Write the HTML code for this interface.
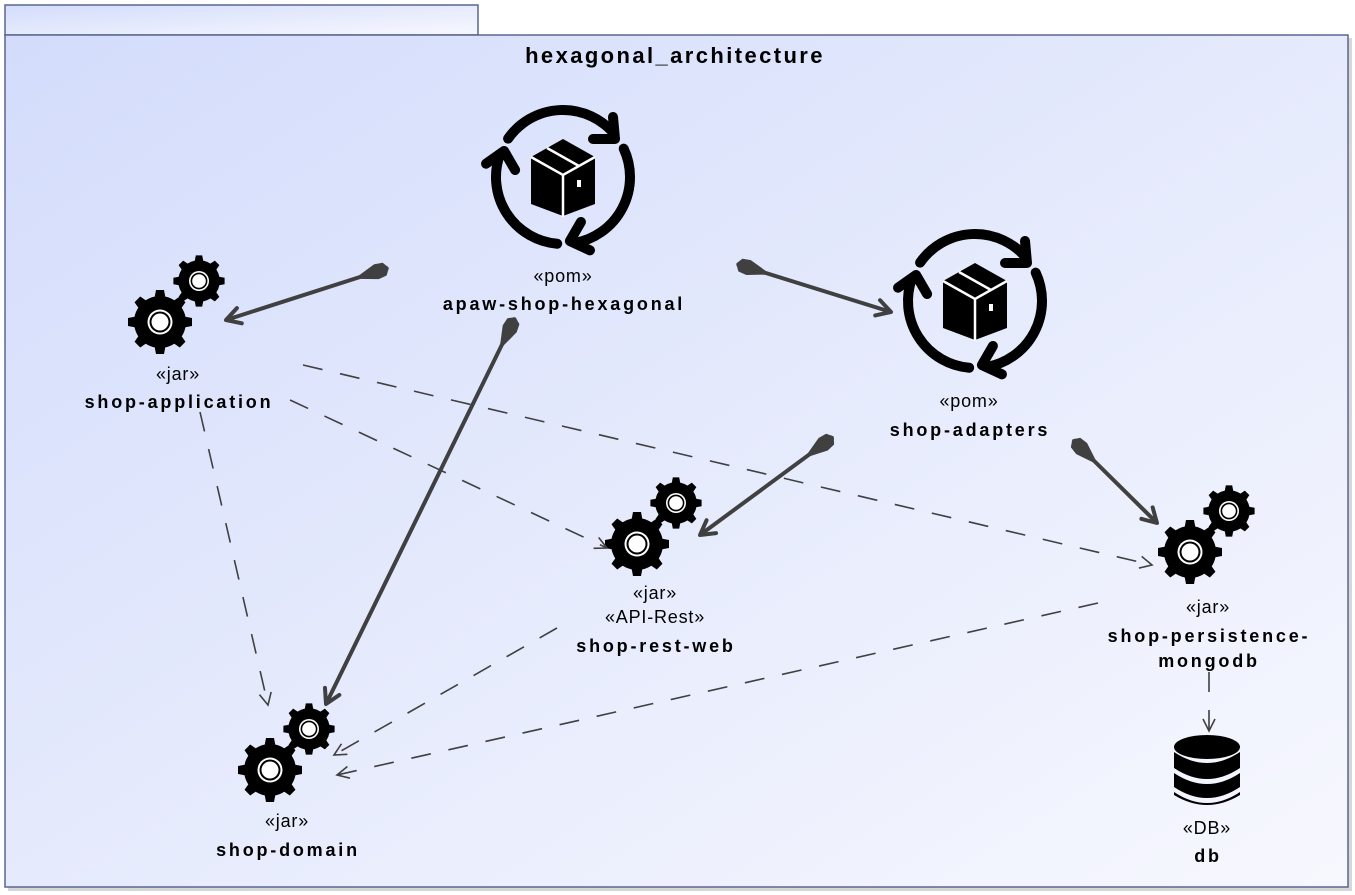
<!DOCTYPE html>
<html><head><meta charset="utf-8"><style>
html,body{margin:0;padding:0;width:1355px;height:895px;overflow:hidden;background:#fff}
svg{display:block}
text{font-family:"Liberation Sans",sans-serif;fill:#000}
.b{font-weight:bold;letter-spacing:2.8px}
.r{letter-spacing:0.8px}
</style></head><body>
<svg width="1355" height="895" viewBox="0 0 1355 895" xmlns="http://www.w3.org/2000/svg">
<defs>
<linearGradient id="bg" x1="0" y1="0" x2="1" y2="1">
<stop offset="0" stop-color="#d3dcfb"/><stop offset="1" stop-color="#f7f8fe"/>
</linearGradient>
<marker id="arr" markerUnits="userSpaceOnUse" markerWidth="30" markerHeight="30" refX="0" refY="0" viewBox="-20 -15 30 30" orient="auto">
<polyline points="-14,-8 0,0 -14,8" fill="none" stroke="#404040" stroke-width="4" stroke-linecap="round" stroke-linejoin="round"/>
</marker>
<marker id="darr" markerUnits="userSpaceOnUse" markerWidth="30" markerHeight="30" refX="0" refY="0" viewBox="-20 -15 30 30" orient="auto">
<polyline points="-12,-6 0,0 -12,6" fill="none" stroke="#404040" stroke-width="1.6"/>
</marker>
<polygon id="dia" points="0,0 4,-6 12,-7 33,0 12,7 4,6" fill="#404040" stroke="#404040" stroke-width="1.5" stroke-linejoin="round"/>
<g id="gear">
<g fill="#000">
<circle r="26"/>
<polygon points="-5.5,-24 5.5,-24 4,-32 -4,-32"/>
<polygon points="-5.5,-24 5.5,-24 4,-32 -4,-32" transform="rotate(45)"/>
<polygon points="-5.5,-24 5.5,-24 4,-32 -4,-32" transform="rotate(90)"/>
<polygon points="-5.5,-24 5.5,-24 4,-32 -4,-32" transform="rotate(135)"/>
<polygon points="-5.5,-24 5.5,-24 4,-32 -4,-32" transform="rotate(180)"/>
<polygon points="-5.5,-24 5.5,-24 4,-32 -4,-32" transform="rotate(225)"/>
<polygon points="-5.5,-24 5.5,-24 4,-32 -4,-32" transform="rotate(270)"/>
<polygon points="-5.5,-24 5.5,-24 4,-32 -4,-32" transform="rotate(315)"/>
</g>
<circle r="12.5" fill="#fff"/><circle r="10.5" fill="#000"/><circle r="8.5" fill="#fff"/>
</g>
<g id="gears">
<use href="#gear" transform="translate(39,-41) scale(0.8)"/>
<use href="#gear"/>
</g>
<g id="arc">
<path d="M-54.9,-38.4 A67,67 0 0 1 51.3,-43.1" fill="none" stroke="#000" stroke-width="10" stroke-linecap="round"/>
<polyline points="30,-38 52,-38 50,-60" fill="none" stroke="#000" stroke-width="10" stroke-linecap="round" stroke-linejoin="round"/>
</g>
<g id="pom">
<use href="#arc"/>
<use href="#arc" transform="rotate(120)"/>
<use href="#arc" transform="rotate(240)"/>
<polygon points="0,-38 32,-20 32,27 0,39 -32,27 -32,-20" fill="#000"/>
<polyline points="-32,-20 0,-2 32,-20" fill="none" stroke="#fff" stroke-width="2.5"/>
<line x1="0" y1="-2" x2="0" y2="40" stroke="#fff" stroke-width="2.5"/>
<line x1="-16" y1="-29" x2="16" y2="-11" stroke="#fff" stroke-width="2.5"/>
<rect x="14" y="3" width="4" height="7" fill="#fff"/>
</g>
</defs>
<rect x="5" y="5" width="473" height="30" fill="url(#bg)" stroke="#5a6690" stroke-width="1.5"/>
<rect x="8" y="38" width="1344" height="853" fill="#b0b0b0" opacity="0.5"/>
<rect x="5" y="35" width="1343" height="852" fill="url(#bg)" stroke="#5a6690" stroke-width="1.5"/>
<text x="675" y="63" font-size="22" font-weight="bold" letter-spacing="2.4" text-anchor="middle">hexagonal_architecture</text>

<use href="#pom" transform="translate(563,177)"/>
<use href="#pom" transform="translate(975,301)"/>
<use href="#gears" transform="translate(160,322)"/>
<use href="#gears" transform="translate(637,544)"/>
<use href="#gears" transform="translate(1190,552)"/>
<use href="#gears" transform="translate(270,770)"/>
<g transform="translate(1207,0)" fill="#000">
<ellipse cx="0" cy="747" rx="33" ry="12"/>
<path d="M-33,752 Q0,774 33,752 V768 Q0,790 -33,768Z"/>
<path d="M-33,773 Q0,795 33,773 V787 Q0,809 -33,787Z"/>
<path d="M-33,792 Q0,814 33,792 V795 Q0,815 -33,795Z"/>
</g>

<g stroke="#404040" stroke-width="4" fill="none">
<line x1="388" y1="268" x2="226" y2="320" marker-end="url(#arr)"/>
<line x1="515" y1="318" x2="326" y2="704" marker-end="url(#arr)"/>
<line x1="737" y1="264" x2="891" y2="312" marker-end="url(#arr)"/>
<line x1="833" y1="437" x2="700" y2="535" marker-end="url(#arr)"/>
<line x1="1073" y1="440" x2="1157" y2="523" marker-end="url(#arr)"/>
</g>
<use href="#dia" transform="translate(388,268) rotate(162.2)"/>
<use href="#dia" transform="translate(515,318) rotate(116.1)"/>
<use href="#dia" transform="translate(737,264) rotate(17.3)"/>
<use href="#dia" transform="translate(833,437) rotate(143.6)"/>
<use href="#dia" transform="translate(1073,440) rotate(44.7)"/>
<g stroke="#404040" stroke-width="1.6" fill="none" stroke-dasharray="20,18">
<line x1="303" y1="365" x2="1152" y2="565" marker-end="url(#darr)"/>
<line x1="290" y1="400" x2="607" y2="548" marker-end="url(#darr)"/>
<line x1="200" y1="412" x2="268" y2="705" marker-end="url(#darr)"/>
<line x1="557" y1="628" x2="334" y2="755" marker-end="url(#darr)"/>
<line x1="1098" y1="603" x2="337" y2="775" marker-end="url(#darr)"/>
<line x1="1209" y1="672" x2="1209" y2="731" marker-end="url(#darr)"/>
</g>

<g font-size="18" text-anchor="middle">
<text class="r" x="563" y="282">«pom»</text>
<text class="b" x="564" y="310">apaw-shop-hexagonal</text>
<text class="r" x="178" y="380">«jar»</text>
<text class="b" x="179" y="408">shop-application</text>
<text class="r" x="969" y="407">«pom»</text>
<text class="b" x="970" y="436">shop-adapters</text>
<text class="r" x="655" y="599">«jar»</text>
<text class="r" x="655" y="623">«API-Rest»</text>
<text class="b" x="656" y="652">shop-rest-web</text>
<text class="r" x="1208" y="613">«jar»</text>
<text class="b" x="1209" y="642">shop-persistence-</text>
<text class="b" x="1209" y="667">mongodb</text>
<text class="r" x="287" y="827">«jar»</text>
<text class="b" x="288" y="856">shop-domain</text>
<text class="r" x="1207" y="834">«DB»</text>
<text class="b" x="1208" y="862">db</text>
</g>
</svg>
</body></html>
